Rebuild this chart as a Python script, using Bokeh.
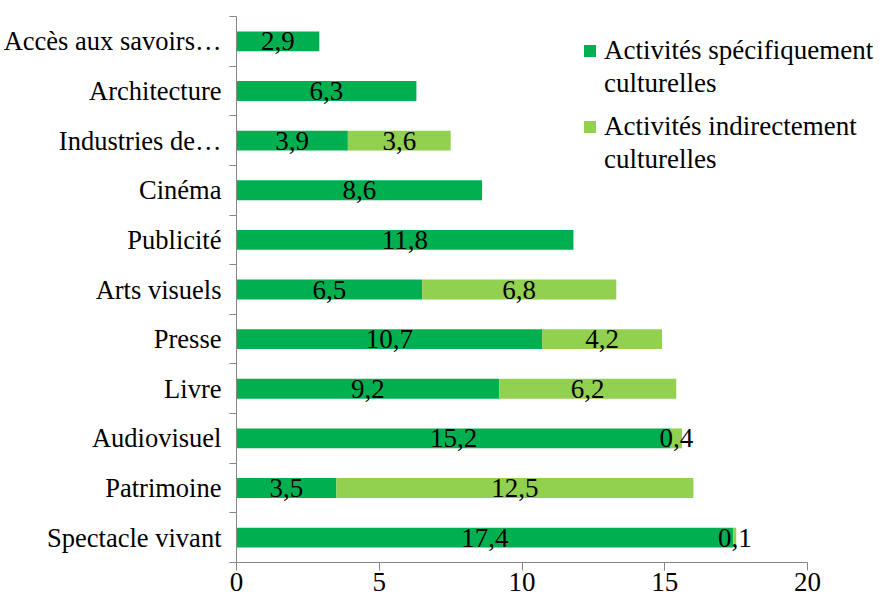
from bokeh.plotting import figure
from bokeh.models import ColumnDataSource, FixedTicker, Range1d, Legend, LegendItem
from bokeh.core.properties import value
from bokeh.embed import file_html
from bokeh.resources import INLINE

categories = ["Spectacle vivant", "Patrimoine", "Audiovisuel", "Livre", "Presse",
              "Arts visuels", "Publicité", "Cinéma", "Industries de…",
              "Architecture", "Accès aux savoirs…"]
specifique = [17.4, 3.5, 15.2, 9.2, 10.7, 6.5, 11.8, 8.6, 3.9, 6.3, 2.9]
indirect = [0.1, 12.5, 0.4, 6.2, 4.2, 6.8, 0, 0, 3.6, 0, 0]
x_ticks = [0, 5, 10, 15, 20]
series_lines = [["Activités spécifiquement", "culturelles"],
                ["Activités indirectement", "culturelles"]]

DARK = "#00B050"
LIGHT = "#92D050"
AXIS = "#868686"
FONT = "Liberation Serif"
FS = "27px"

W, H = 886, 603
LEFT, TOP, BOTTOM = 235, 16, 41
AXIS_END_PX = 807          # pixel where the value 20 sits
x_max = 20 * (W - LEFT) / (AXIS_END_PX - LEFT)

n = len(categories)
ypos = [i + 0.5 for i in range(n)]
ind_left = list(specifique)
ind_right = [s + d for s, d in zip(specifique, indirect)]

p = figure(width=W, height=H, output_backend="svg", toolbar_location=None,
           x_range=Range1d(0, x_max), y_range=Range1d(0, n),
           min_border_left=LEFT, min_border_right=0, min_border_top=TOP,
           min_border_bottom=BOTTOM)
p.outline_line_color = None
p.grid.grid_line_color = None
p.background_fill_color = "white"

src = ColumnDataSource(dict(y=ypos, s=specifique, l=ind_left, r=ind_right))
r1 = p.hbar(y="y", left=0, right="s", height=0.4, fill_color=DARK, line_color=None, source=src)
r2 = p.hbar(y="y", left="l", right="r", height=0.4, fill_color=LIGHT, line_color=None, source=src)

# value labels
vx, vy, vt = [], [], []
for i in range(n):
    if specifique[i] > 0:
        vx.append(specifique[i] / 2); vy.append(ypos[i])
        vt.append(f"{specifique[i]:.1f}".replace(".", ","))
    if indirect[i] > 0:
        vx.append(specifique[i] + indirect[i] / 2); vy.append(ypos[i])
        vt.append(f"{indirect[i]:.1f}".replace(".", ","))
p.text(x=vx, y=vy, text=vt, text_align="center", text_baseline="middle",
       text_font=value(FONT), text_font_size=FS, text_color="black")

# x axis
xa = p.xaxis[0]
xa.bounds = (0, 20)
xa.ticker = FixedTicker(ticks=x_ticks, minor_ticks=[])
xa.axis_line_color = AXIS
xa.major_tick_line_color = AXIS
xa.major_tick_out = 8
xa.major_tick_in = 0
xa.minor_tick_line_color = None
xa.major_label_text_font = FONT
xa.major_label_text_font_size = FS
xa.major_label_text_color = "black"
xa.major_label_standoff = 2

# y axis: labels at centres, small ticks at category boundaries
ya = p.yaxis[0]
ya.ticker = FixedTicker(ticks=ypos, minor_ticks=list(range(n + 1)))
ya.major_label_overrides = {y: c for y, c in zip(ypos, categories)}
ya.axis_line_color = AXIS
ya.major_tick_line_color = None
ya.major_tick_out = 0
ya.major_tick_in = 0
ya.minor_tick_line_color = AXIS
ya.minor_tick_out = 7
ya.minor_tick_in = 0
ya.major_label_text_font = FONT
ya.major_label_text_font_size = "26.5px"
ya.major_label_text_color = "black"
ya.major_label_standoff = 8


def make_legend(lines, renderer, loc):
    items = [LegendItem(label=lines[0], renderers=[renderer])]
    items += [LegendItem(label=t, renderers=[]) for t in lines[1:]]
    lg = Legend(items=items, location=loc, orientation="vertical")
    lg.border_line_color = None
    lg.background_fill_alpha = 0
    lg.padding = 0
    lg.margin = 0
    lg.spacing = 2
    lg.glyph_width = 15
    lg.glyph_height = 15
    lg.label_standoff = 7
    lg.label_text_font = FONT
    lg.label_text_font_size = FS
    lg.label_text_color = "black"
    return lg


p.add_layout(make_legend(series_lines[0], r1, (346, 463)))
p.add_layout(make_legend(series_lines[1], r2, (346, 387)))

open("out.html", "w").write(file_html(p, INLINE))
